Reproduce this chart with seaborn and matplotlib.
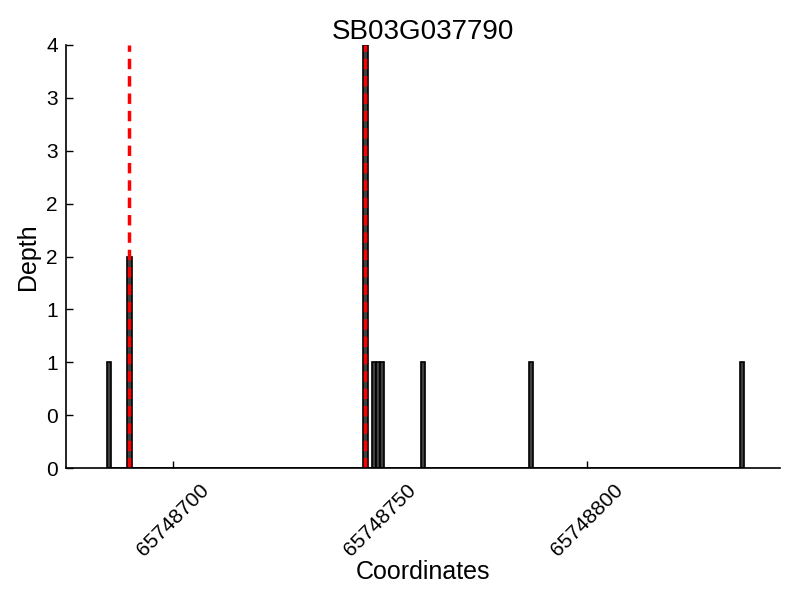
import numpy as np
import pandas as pd
import matplotlib
matplotlib.use("Agg")
import matplotlib.pyplot as plt
from matplotlib.ticker import FormatStrFormatter, MultipleLocator
import seaborn as sns

# ── DATA ─────────────────────────────────────
gene_id = "SB03G037790"
positions = [65748684, 65748689, 65748746, 65748748, 65748749,
             65748750, 65748760, 65748786, 65748837]
depths = [1, 2, 4, 1, 1, 1, 1, 1, 1]
sites = [65748689.4, 65748746.5]
xticks = [65748700, 65748750, 65748800]

df = pd.DataFrame({"pos": positions, "depth": depths})

# ── STYLE ────────────────────────────────────
sns.set_style("ticks")
plt.rcParams["font.family"] = ["Liberation Sans", "DejaVu Sans"]
plt.rcParams["text.color"] = "black"
plt.rcParams["axes.labelcolor"] = "black"
plt.rcParams["xtick.color"] = "black"
plt.rcParams["ytick.color"] = "black"
plt.rcParams["xtick.direction"] = "in"
plt.rcParams["ytick.direction"] = "in"

fig = plt.figure(figsize=(8, 6), dpi=100, facecolor="white")
ax = fig.add_axes([0.0825, 0.22, 0.8925, 0.705])

sns.histplot(data=df, x="pos", weights="depth", binwidth=1,
             binrange=(positions[0], positions[-1] + 1),
             color="#404040", edgecolor="black", linewidth=1.2,
             alpha=1, ax=ax)

for s in sites:
    ax.axvline(s, ymin=0, ymax=1, color="red", linestyle="--",
               linewidth=2.5, dashes=(3, 2))

ax.set_xlim(65748674.15, 65748846.65)
ax.set_ylim(0, 4)
ax.set_xticks(xticks)
ax.set_xticklabels([str(t) for t in xticks], rotation=45, fontsize=15)
ax.yaxis.set_major_locator(MultipleLocator(0.5))
ax.yaxis.set_major_formatter(FormatStrFormatter("%d"))
ax.tick_params(axis="y", which="both", labelsize=15, length=5, width=1,
               direction="in", colors="black", pad=6, left=True, right=False)
ax.tick_params(axis="x", which="both", length=5, width=1, direction="in",
               colors="black", pad=9, bottom=True, top=False)

for sp in ["top", "right"]:
    ax.spines[sp].set_visible(False)
for sp in ["left", "bottom"]:
    ax.spines[sp].set_linewidth(1.2)
    ax.spines[sp].set_color("black")

ax.set_title(gene_id, fontsize=20, pad=3, color="black")
ax.set_xlabel("Coordinates", fontsize=18, color="black", labelpad=0)
ax.set_ylabel("Depth", fontsize=18, color="black", labelpad=4)

fig.savefig("out.png", dpi=100, facecolor="white")
